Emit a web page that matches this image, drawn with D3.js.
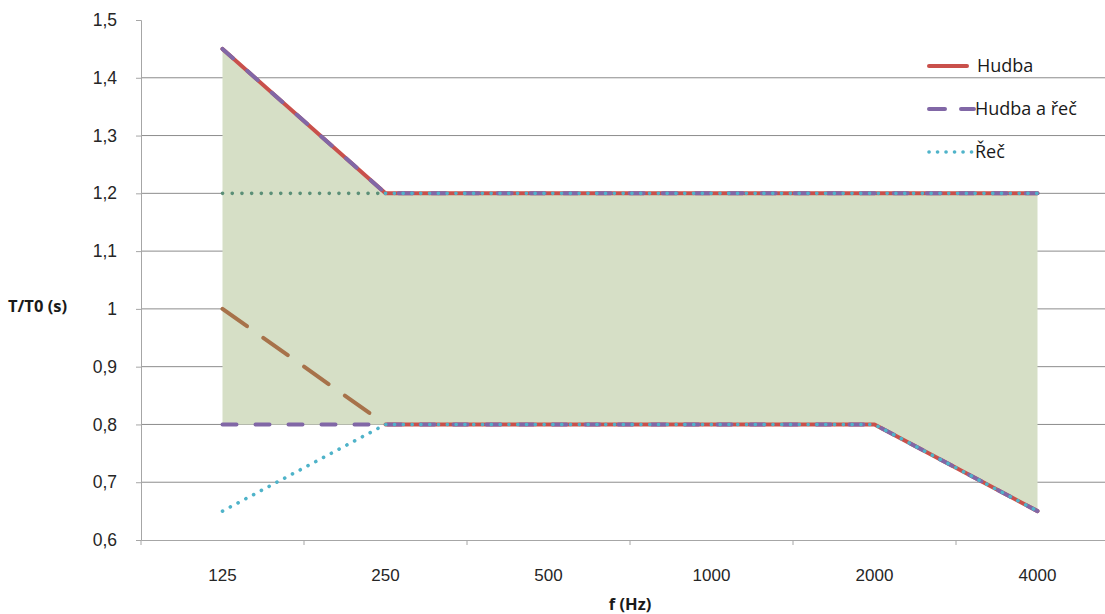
<!DOCTYPE html>
<html>
<head>
<meta charset="utf-8">
<script src="https://cdn.jsdelivr.net/npm/d3@7"></script>
<style>
  html, body { margin: 0; padding: 0; background: #fff; }
  svg { display: block; font-family: "Open Sans", "Liberation Sans", sans-serif; }
</style>
</head>
<body>
<svg id="chart" width="1105" height="614"></svg>
<script>
// Frequency bands (Hz)
const categories = ["125", "250", "500", "1000", "2000", "4000"];

// Recommended reverberation ratio T/T0 – upper and lower limits per use
const hudbaMax = [1.45, 1.2, 1.2, 1.2, 1.2, 1.2];
const hudbaMin = [1.0, 0.8, 0.8, 0.8, 0.8, 0.65];
const hudbaRecMax = [1.45, 1.2, 1.2, 1.2, 1.2, 1.2];
const hudbaRecMin = [0.8, 0.8, 0.8, 0.8, 0.8, 0.65];
const recMax = [1.2, 1.2, 1.2, 1.2, 1.2, 1.2];
const recMin = [0.65, 0.8, 0.8, 0.8, 0.8, 0.65];

// Tolerance band shaded behind the lines
const bandUpper = [1.45, 1.2, 1.2, 1.2, 1.2, 1.2];
const bandLower = [0.8, 0.8, 0.8, 0.8, 0.8, 0.65];

const yTicks = [0.6, 0.7, 0.8, 0.9, 1.0, 1.1, 1.2, 1.3, 1.4, 1.5];
const legendNames = ["Hudba", "Hudba a řeč", "Řeč"];

const svg = d3.select("#chart");
const plotLeft = 141, plotRight = 1119, plotTop = 20, plotBottom = 540;

const x = d3.scaleBand().domain(categories).range([plotLeft, plotRight]).padding(0);
const cx = c => x(c) + x.bandwidth() / 2;
const y = d3.scaleLinear().domain([0.6, 1.5]).range([plotBottom, plotTop]);

// gridlines
svg.append("g")
  .selectAll("line")
  .data(yTicks.filter(t => t > 0.6 && t < 1.5))
  .join("line")
  .attr("x1", plotLeft).attr("x2", 1105)
  .attr("y1", d => y(d)).attr("y2", d => y(d))
  .attr("stroke", "#8c8c8c").attr("stroke-width", 1);

// shaded band
const area = d3.area()
  .x((d, i) => cx(categories[i]))
  .y0((d, i) => y(bandLower[i]))
  .y1(d => y(d));
svg.append("path")
  .datum(bandUpper)
  .attr("d", area)
  .attr("fill", "#d6dfc6");

// axes
const yAxis = d3.axisLeft(y).tickValues(yTicks).tickSize(5).tickPadding(19)
  .tickFormat(d => d === 1 ? "1" : d3.format(".1f")(d).replace(".", ","));
const gy = svg.append("g").attr("transform", `translate(${plotLeft},0)`).call(yAxis);
gy.select(".domain").attr("stroke", "#a6a6a6");
gy.selectAll(".tick line").attr("stroke", "#a6a6a6");
gy.selectAll(".tick text").attr("font-size", 17.5).attr("fill", "#262626");

const xAxis = d3.axisBottom(x).tickSize(0).tickPadding(29);
const gx = svg.append("g").attr("transform", `translate(0,${plotBottom})`).call(xAxis);
gx.select(".domain").attr("stroke", "#a6a6a6");
gx.selectAll(".tick text").attr("font-size", 17).attr("fill", "#262626");
// tick marks between categories
svg.append("g")
  .selectAll("line")
  .data(categories)
  .join("line")
  .attr("x1", d => x(d)).attr("x2", d => x(d))
  .attr("y1", plotBottom).attr("y2", plotBottom + 5)
  .attr("stroke", "#a6a6a6");

// axis titles
svg.append("text").attr("x", 8).attr("y", 312)
  .attr("font-size", 16.5).attr("font-weight", "bold").attr("fill", "#1a1a1a")
  .text("T/T0 (s)");
svg.append("text").attr("x", (plotLeft + plotRight) / 2).attr("y", 610)
  .attr("text-anchor", "middle")
  .attr("font-size", 16.5).attr("font-weight", "bold").attr("fill", "#1a1a1a")
  .text("f (Hz)");

// line styles
const styles = {
  hudba:   { stroke: "#c9504b", width: 4, dash: null, cap: "round" },
  brown:   { stroke: "#a7724a", width: 4, dash: "30,20", cap: "round" },
  hudbaRec:{ stroke: "#8167a6", width: 4, dash: "14,19", cap: "round" },
  rec:     { stroke: "#4fb3c9", width: 3.6, dash: "0.1,8.7", cap: "round" },
  recDark: { stroke: "#5b8f77", width: 3.6, dash: "0.1,9.6", cap: "round" }
};

function draw(values, style, from, to) {
  const pts = values.map((v, i) => [cx(categories[i]), y(v)]).slice(from, to + 1);
  svg.append("path")
    .attr("d", d3.line()(pts))
    .attr("fill", "none")
    .attr("stroke", style.stroke)
    .attr("stroke-width", style.width)
    .attr("stroke-linecap", style.cap)
    .attr("stroke-linejoin", "round")
    .attr("stroke-dasharray", style.dash);
}

const last = categories.length - 1;
// Hudba
draw(hudbaMax, styles.hudba, 0, last);
draw(hudbaMin, styles.hudba, 1, last);
draw(hudbaMin, styles.brown, 0, 1);
// Hudba a řeč
draw(hudbaRecMax, styles.hudbaRec, 0, last);
draw(hudbaRecMin, styles.hudbaRec, 0, last);
// Řeč
draw(recMax, styles.recDark, 0, 1);
draw(recMax, styles.rec, 1, last);
draw(recMin, styles.rec, 0, last);

// legend
const legend = svg.append("g");
const legendStyles = [styles.hudba, styles.hudbaRec, styles.rec];
const legendDash = [null, "16,16", "0.1,8.4"];
const legendEnd = [967, 974, 972];
const legendY = [66, 109, 152];
legendNames.forEach((name, i) => {
  const s = legendStyles[i];
  legend.append("line")
    .attr("x1", 929).attr("x2", legendEnd[i])
    .attr("y1", legendY[i]).attr("y2", legendY[i])
    .attr("stroke", s.stroke).attr("stroke-width", s.width)
    .attr("stroke-linecap", s.cap)
    .attr("stroke-dasharray", legendDash[i]);
  legend.append("text")
    .attr("x", i === 0 ? 977 : 975).attr("y", legendY[i] + 6)
    .attr("font-size", 18).attr("fill", "#1a1a1a")
    .text(name);
});
</script>
</body>
</html>
